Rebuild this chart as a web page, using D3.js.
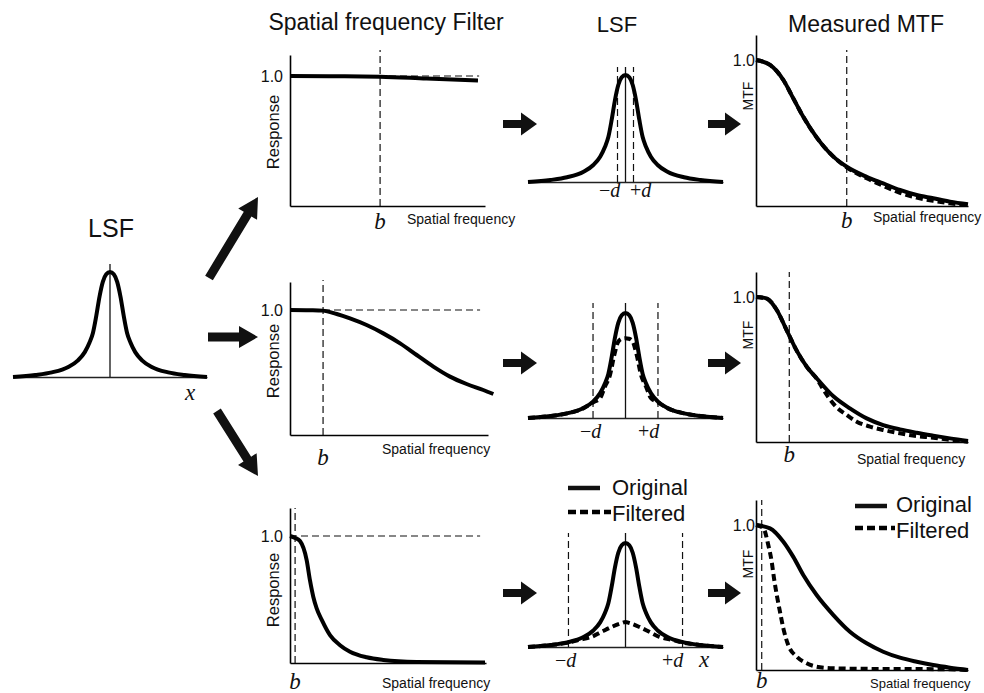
<!DOCTYPE html>
<html><head><meta charset="utf-8">
<script src="https://cdn.jsdelivr.net/npm/d3@7"></script>
<style>body{margin:0;background:#fff}svg{display:block}</style>
</head><body>
<svg id="c" width="984" height="693"></svg>
<script>
// ---------------- DATA ----------------
// Spatial-frequency filter responses (frequency in arbitrary units 0..10)
const filterFreq1 = [0, 2.0, 4.62, 7.0, 9.64];
const filterResp1 = [1.0, 0.998, 0.995, 0.98, 0.965];
const filterFreq2 = [0, 1.0, 1.65, 2.36, 3.03, 3.87, 4.71, 5.56, 6.40, 7.24, 8.08, 8.92, 9.76, 10.27];
const filterResp2 = [1.0, 0.998, 0.995, 0.968, 0.933, 0.88, 0.813, 0.733, 0.64, 0.547, 0.467, 0.408, 0.36, 0.328];
const filterFreq3 = [0, 0.26, 0.51, 0.85, 1.02, 1.19, 1.36, 1.62, 2.04, 2.55, 3.06, 3.91, 4.76, 6.46, 9.95];
const filterResp3 = [1.0, 0.985, 0.96, 0.81, 0.65, 0.52, 0.43, 0.34, 0.22, 0.14, 0.089, 0.045, 0.024, 0.008, 0.003];
const filterCutoff = [4.62, 1.67, 0.26];

// Line spread functions (position -1..1, relative height)
const lsfX = [-1, -0.77, -0.6, -0.43, -0.33, -0.26, -0.21, -0.176, -0.142, -0.108, -0.074, -0.039, 0,
              0.039, 0.074, 0.108, 0.142, 0.176, 0.21, 0.26, 0.33, 0.43, 0.6, 0.77, 1];
const lsfOriginal = [0, 0.019, 0.044, 0.096, 0.159, 0.237, 0.33, 0.42, 0.58, 0.766, 0.906, 0.978, 1.0,
                     0.978, 0.906, 0.766, 0.58, 0.42, 0.33, 0.237, 0.159, 0.096, 0.044, 0.019, 0];
const lsfX2f = [-1, -0.77, -0.6, -0.43, -0.33, -0.26, -0.21, -0.159, -0.115, -0.074, -0.035, 0,
                0.035, 0.074, 0.115, 0.159, 0.21, 0.26, 0.33, 0.43, 0.6, 0.77, 1];
const lsfFiltered2 = [0, 0.019, 0.044, 0.094, 0.15, 0.19, 0.30, 0.41, 0.60, 0.727, 0.755, 0.76,
                      0.755, 0.727, 0.60, 0.41, 0.30, 0.19, 0.15, 0.094, 0.044, 0.019, 0];
const lsfX3f = [-1, -0.77, -0.6, -0.484, -0.347, -0.244, -0.142, -0.039, 0,
                0.039, 0.142, 0.244, 0.347, 0.484, 0.6, 0.77, 1];
const lsfFiltered3 = [0, 0.018, 0.04, 0.067, 0.098, 0.146, 0.193, 0.231, 0.24,
                      0.231, 0.193, 0.146, 0.098, 0.067, 0.04, 0.018, 0];
const lsfHalfWidth = [0.082, 0.333, 0.585];

// Measured MTFs (frequency 0..10)
const mtfFreq1 = [0, 0.66, 1.29, 1.76, 2.23, 2.86, 3.65, 4.28, 5.22, 6.0, 6.79, 7.58, 8.36, 9.15, 10];
const mtfOrig1 = [1.0, 0.966, 0.863, 0.737, 0.611, 0.47, 0.338, 0.269, 0.20, 0.155, 0.11, 0.075, 0.053, 0.03, 0.012];
const mtfFilt1 = [1.0, 0.966, 0.863, 0.737, 0.611, 0.47, 0.338, 0.265, 0.19, 0.138, 0.09, 0.057, 0.035, 0.018, 0.005];
const mtfFreq2 = [0, 0.5, 0.98, 1.45, 1.92, 2.39, 2.86, 3.65, 4.43, 5.22, 6.0, 6.79, 7.58, 8.36, 9.15, 10];
const mtfOrig2 = [1.0, 0.99, 0.91, 0.77, 0.63, 0.52, 0.44, 0.315, 0.232, 0.163, 0.117, 0.087, 0.064, 0.044, 0.025, 0.007];
const mtfFreq2f = [0, 0.5, 0.98, 1.45, 1.92, 2.39, 2.94, 3.10, 3.41, 3.80, 4.28, 4.75, 5.38, 6.0, 6.79, 7.58, 8.36, 9.15, 10];
const mtfFilt2 = [1.0, 0.99, 0.91, 0.77, 0.63, 0.52, 0.42, 0.38, 0.31, 0.24, 0.186, 0.14, 0.106, 0.083, 0.06, 0.041, 0.03, 0.014, 0.002];
const mtfFreq3 = [0, 0.66, 1.29, 1.76, 2.23, 2.86, 3.65, 4.43, 5.22, 6.0, 6.79, 7.58, 8.36, 9.15, 10];
const mtfOrig3 = [1.0, 0.977, 0.885, 0.78, 0.655, 0.517, 0.379, 0.264, 0.184, 0.126, 0.085, 0.057, 0.034, 0.016, 0.0];
const mtfFreq3f = [0, 0.35, 0.58, 0.74, 0.85, 0.98, 1.13, 1.29, 1.52, 1.92, 2.39, 3.02, 3.65, 5.22, 6.79, 9.15, 10];
const mtfFilt3 = [1.0, 0.977, 0.862, 0.747, 0.632, 0.517, 0.402, 0.287, 0.172, 0.092, 0.046, 0.019, 0.012, 0.008, 0.007, 0.005, 0.0];
const mtfCutoff = [4.28, 1.57, 0.27];

// Tick labels and texts
const yTicks = [1.0];
const titles = ["Spatial frequency Filter", "LSF", "Measured MTF"];
const legendLabels = ["Original", "Filtered"];

// ---------------- LAYOUT ----------------
const SANS = "'Liberation Sans', Arial, Helvetica, sans-serif";
const SERIF = "'Liberation Serif', 'Times New Roman', serif";
const INK = "#111";
const svg = d3.select('#c');

const filterLayout = [
  {left:290, right:485, bottom:206, top:55,  one:76,  dashTop:50,  hEnd:9.7, bY:229, sfX:407, sfY:224, sfS:14, ylX:279, ylY:132},
  {left:290, right:488, bottom:435, top:282, one:310, dashTop:280, hEnd:9.6, bY:465, sfX:382, sfY:454, sfS:14, ylX:279, ylY:361},
  {left:290, right:486, bottom:663, top:508, one:536, dashTop:508, hEnd:9.7, bY:689, sfX:382, sfY:688, sfS:14, ylX:279, ylY:590}
];
const mtfLayout = [
  {left:756, right:968, bottom:206, top:35,  one:60,  dashTop:50,  bY:228, sfX:873, sfY:222, sfS:14, ylX:753, ylY:96},
  {left:756, right:968, bottom:442, top:272, one:297, dashTop:272, bY:462, sfX:857, sfY:464, sfS:14, ylX:753, ylY:335},
  {left:756, right:968, bottom:670, top:500, one:525, dashTop:500, bY:688, sfX:870, sfY:688, sfS:13, ylX:753, ylY:564}
];
const lsfLayout = [
  {left:528, right:723, base:182, peak:75,  cTop:67,  lab:[599, 630], labY:197},
  {left:528, right:723, base:418, peak:313, cTop:303, lab:[580, 638], labY:438},
  {left:528, right:723, base:647, peak:543, cTop:533, lab:[555, 662], labY:667}
];

const zip = (a, b) => a.map((v, i) => [v, b[i]]);

function curve(x, y, xs, ys, dashed) {
  svg.append('path').datum(zip(xs, ys))
    .attr('d', d3.line().x(d => x(d[0])).y(d => y(d[1])).curve(d3.curveMonotoneX))
    .attr('fill', 'none').attr('stroke', '#000').attr('stroke-width', 4)
    .attr('stroke-linejoin', 'round')
    .attr('stroke-dasharray', dashed ? '7,4' : null);
}
function thin(x1, y1, x2, y2, dashed, w) {
  svg.append('line').attr('x1', x1).attr('y1', y1).attr('x2', x2).attr('y2', y2)
    .attr('stroke', INK).attr('stroke-width', w || 1.2)
    .attr('stroke-dasharray', dashed ? '7,4' : null);
}
function text(t, x, y, size, family, opts) {
  const o = opts || {};
  const el = svg.append('text').attr('x', x).attr('y', y).attr('font-size', size)
    .attr('font-family', family).attr('fill', INK)
    .attr('text-anchor', o.anchor || 'start');
  if (o.italic) el.attr('font-style', 'italic');
  if (o.rotate) el.attr('transform', `rotate(-90,${x},${y})`);
  el.text(t);
  return el;
}

function freqPanel(c, yLabel, pad, bVal) {
  const x = d3.scaleLinear().domain([0, 10]).range([c.left, c.right]);
  const ymax = (c.bottom - c.top) / (c.bottom - c.one);
  const y = d3.scaleLinear().domain([0, ymax]).range([c.bottom, c.top]);
  const gy = svg.append('g').attr('transform', `translate(${c.left},0)`)
    .call(d3.axisLeft(y).tickValues(yTicks).tickFormat(d3.format('.1f')).tickSizeInner(0).tickSizeOuter(0).tickPadding(pad));
  gy.select('.domain').attr('stroke', '#000').attr('stroke-width', 1.6);
  gy.selectAll('.tick line').remove();
  gy.selectAll('text').attr('font-family', SANS).attr('font-size', 16).attr('fill', INK);
  const gx = svg.append('g').attr('transform', `translate(0,${c.bottom})`)
    .call(d3.axisBottom(x).tickValues([]).tickSizeOuter(0));
  gx.select('.domain').attr('stroke', '#000').attr('stroke-width', 1.6);
  thin(x(bVal), y(0), x(bVal), c.dashTop, true);
  text('b', x(bVal), c.bY, 23, SERIF, {anchor: 'middle', italic: true});
  text('Spatial frequency', c.sfX, c.sfY, c.sfS, SANS);
  text(yLabel, c.ylX, c.ylY, yLabel === 'MTF' ? 14 : 16.5, SANS, {anchor: 'middle', rotate: true});
  return {x, y};
}

// ---- Filter panels ----
const filterData = [[filterFreq1, filterResp1], [filterFreq2, filterResp2], [filterFreq3, filterResp3]];
filterLayout.forEach((c, i) => {
  const {x, y} = freqPanel(c, 'Response', 7, filterCutoff[i]);
  thin(x(0), y(1), x(c.hEnd), y(1), true);
  curve(x, y, filterData[i][0], filterData[i][1], false);
});

// ---- MTF panels ----
const mtfData = [
  [mtfFreq1, mtfOrig1, mtfFreq1, mtfFilt1],
  [mtfFreq2, mtfOrig2, mtfFreq2f, mtfFilt2],
  [mtfFreq3, mtfOrig3, mtfFreq3f, mtfFilt3]
];
mtfLayout.forEach((c, i) => {
  const {x, y} = freqPanel(c, 'MTF', 1, mtfCutoff[i]);
  const d = mtfData[i];
  curve(x, y, d[2], d[3], true);
  curve(x, y, d[0], d[1], false);
});

// ---- LSF panels ----
function lsfAxes(c) {
  const x = d3.scaleLinear().domain([-1, 1]).range([c.left, c.right]);
  const y = d3.scaleLinear().domain([0, 1]).range([c.base, c.peak]);
  const g = svg.append('g').attr('transform', `translate(0,${c.base})`)
    .call(d3.axisBottom(x).tickValues([]).tickSizeOuter(0));
  g.select('.domain').attr('stroke', '#222').attr('stroke-width', 1.3);
  thin(x(0), y(0), x(0), c.cTop, false, 1.3);
  return {x, y};
}
// left original LSF
{
  const c = {left:13, right:207, base:377, peak:272, cTop:264};
  const {x, y} = lsfAxes(c);
  curve(x, y, lsfX, lsfOriginal, false);
  text('x', 190, 400, 23, SERIF, {anchor: 'middle', italic: true});
  text(titles[1], 111, 237, 25, SANS, {anchor: 'middle'});
}
const lsfFilt = [null, [lsfX2f, lsfFiltered2], [lsfX3f, lsfFiltered3]];
lsfLayout.forEach((c, i) => {
  const {x, y} = lsfAxes(c);
  const hw = lsfHalfWidth[i];
  thin(x(-hw), y(0), x(-hw), c.cTop, true);
  thin(x(hw), y(0), x(hw), c.cTop, true);
  if (lsfFilt[i]) curve(x, y, lsfFilt[i][0], lsfFilt[i][1], true);
  curve(x, y, lsfX, lsfOriginal, false);
  const m = svg.append('text').attr('x', c.lab[0]).attr('y', c.labY).attr('font-size', 20)
    .attr('font-family', SERIF).attr('fill', INK);
  m.append('tspan').text('\u2212');
  m.append('tspan').attr('font-style', 'italic').text('d');
  const p = svg.append('text').attr('x', c.lab[1]).attr('y', c.labY).attr('font-size', 20)
    .attr('font-family', SERIF).attr('fill', INK);
  p.append('tspan').text('+');
  p.append('tspan').attr('font-style', 'italic').text('d');
  if (i === 2) text('x', 704, c.labY, 23, SERIF, {anchor: 'middle', italic: true});
});

// ---- Titles ----
text(titles[0], 386, 30, 23, SANS, {anchor: 'middle'});
text(titles[1], 617, 32, 22, SANS, {anchor: 'middle'});
text(titles[2], 866, 32, 23, SANS, {anchor: 'middle'});

// ---- Legends ----
function legend(lx, solidEnd, dotEnd, tx, y1, y2, b1, b2) {
  thin(lx, y1, solidEnd, y1, false, 4.5);
  svg.append('line').attr('x1', lx).attr('y1', y2).attr('x2', dotEnd).attr('y2', y2)
    .attr('stroke', '#000').attr('stroke-width', 4.5).attr('stroke-dasharray', '8,4');
  text(legendLabels[0], tx, b1, 22, SANS);
  text(legendLabels[1], tx, b2, 22, SANS);
}
legend(568, 600, 611, 612, 488, 512, 495, 521);
legend(855, 887, 895, 896, 506, 528, 512, 538);

// ---- Arrows ----
function arrow(x1, y1, x2, y2, w, hl, hw) {
  const dx = x2 - x1, dy = y2 - y1, L = Math.hypot(dx, dy);
  const ux = dx / L, uy = dy / L, nx = -uy, ny = ux;
  const bx = x2 - ux * hl, by = y2 - uy * hl;
  const pts = [
    [x1 + nx * w / 2, y1 + ny * w / 2], [bx + nx * w / 2, by + ny * w / 2],
    [bx + nx * hw / 2, by + ny * hw / 2], [x2, y2],
    [bx - nx * hw / 2, by - ny * hw / 2], [bx - nx * w / 2, by - ny * w / 2],
    [x1 - nx * w / 2, y1 - ny * w / 2]
  ];
  svg.append('polygon').attr('points', pts.map(p => p.join(',')).join(' ')).attr('fill', INK);
}
arrow(209, 278, 258, 197, 9, 20, 22);
arrow(208, 337, 258, 337, 9, 19, 22);
arrow(217, 411, 258, 476, 9, 20, 22);
[124, 363, 593].forEach(yy => {
  arrow(503, yy, 537, yy, 8, 16, 23);
  arrow(708, yy, 741, yy, 8, 16, 23);
});
</script>
</body></html>
